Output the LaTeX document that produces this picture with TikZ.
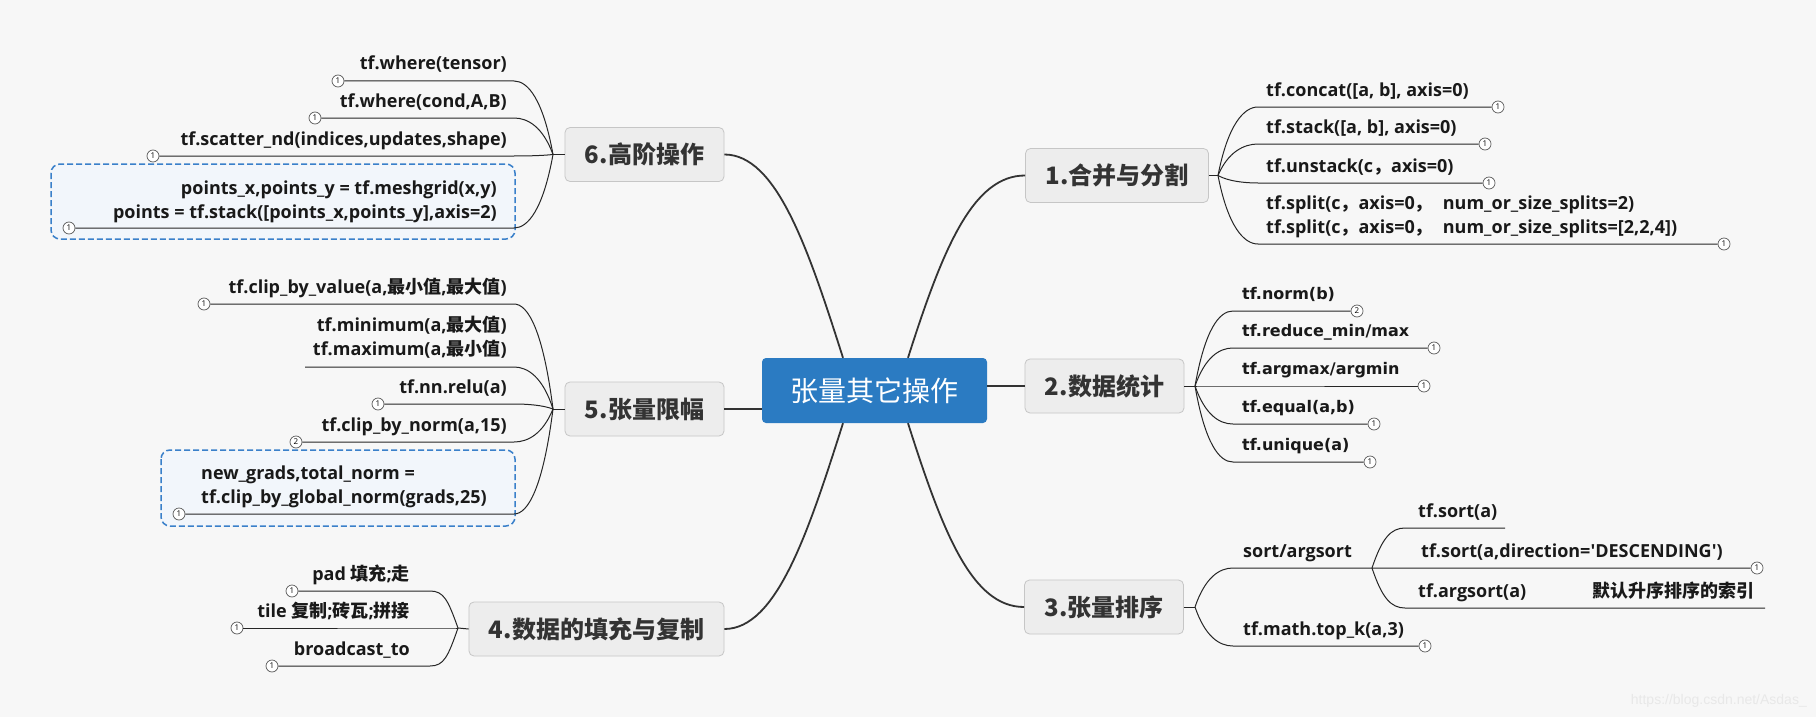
\documentclass[tikz,border=0pt]{standalone}
\usepackage{fontspec}
\setmainfont{Open Sans}
\newfontfamily\cjk{Noto Sans CJK SC}
\newfontfamily\statfont{DejaVu Sans}
\newfontfamily\urlfont{Liberation Sans}
\usetikzlibrary{calc, positioning}
\newcommand\zh[1]{{\cjk #1}}
\definecolor{bgcol}{HTML}{F7F7F7}
\definecolor{rootblue}{HTML}{2B7BC2}
\definecolor{topicfill}{HTML}{EDEDED}
\definecolor{topicline}{HTML}{C6C6C6}
\definecolor{inktext}{HTML}{333333}
\definecolor{dashblue}{HTML}{3A80CA}
\definecolor{dashfill}{HTML}{F2F6FB}
\tikzset{
  rootbox/.style={fill=rootblue, rounded corners=4pt, minimum width=225pt, minimum height=65pt,
    text=white, font=\cjk\fontsize{28}{28}\selectfont},
  topic/.style={fill=topicfill, draw=topicline, line width=0.8pt, rounded corners=5pt,
    inner xsep=20pt, minimum height=54pt, text=inktext, font=\cjk\bfseries\fontsize{24}{24}\selectfont},
  limb/.style={draw=inktext, line width=1.8pt},
  twig/.style={draw=black!85, line width=1pt},
  item/.style={inner sep=0pt, text=black!90, font=\bfseries\fontsize{18}{23.5}\selectfont},
  statitem/.style={inner sep=0pt, text=black!90, font=\statfont\bfseries\fontsize{16}{20}\selectfont},
  badge/.style={circle, draw=black!65, fill=white, line width=0.7pt, minimum size=12pt,
    inner sep=0pt, font=\fontsize{8}{8}\selectfont},
  dashbox/.style={draw=dashblue, dash pattern=on 6pt off 3pt, line width=1.5pt, fill=dashfill,
    rounded corners=9pt},
  watermark/.style={inner sep=0pt, text=black!9, font=\urlfont\fontsize{14}{14}\selectfont},
  fanR/.style={to path={.. controls ($(\tikztostart)!.75!(\tikztostart |- \tikztotarget)+(10,0)$)
    and ($(\tikztotarget)+(-14,0)$) .. (\tikztotarget)}},
  fanL/.style={to path={.. controls ($(\tikztostart)!.75!(\tikztostart |- \tikztotarget)+(-10,0)$)
    and ($(\tikztotarget)+(14,0)$) .. (\tikztotarget)}},
}
\begin{document}
\begin{tikzpicture}[x=1pt, y=-1pt]
\fill[bgcol] (0,0) rectangle (1816,717);
\useasboundingbox (0,0) rectangle (1816,717);

% centre and main topics
\node[rootbox] (root) at (874.5,390.5) {张量其它操作};
\node[topic] (b1) at (1117,175.5) {1.合并与分割};
\node[topic] (b2) at (1104.5,386) {2.数据统计};
\node[topic] (b3) at (1104,607) {3.张量排序};
\node[topic] (b4) at (596.5,629) {4.数据的填充与复制};
\node[topic] (b5) at (644.5,409) {5.张量限幅};
\node[topic] (b6) at (644.5,154.5) {6.高阶操作};

\draw[limb] ([xshift=33.5pt]root.north) .. controls +(35,-110) and +(-52,0) .. (b1.west);
\draw[limb] (root.east |- b2.west) -- (b2.west);
\draw[limb] ([xshift=33.5pt]root.south) .. controls +(35,110) and +(-52,0) .. (b3.west);
\draw[limb] ([xshift=-31.5pt]root.south) .. controls +(-35,110) and +(52,0) .. (b4.east);
\draw[limb] (b5.east) -- (root.west |- b5.east);
\draw[limb] ([xshift=-31.5pt]root.north) .. controls +(-35,-110) and +(52,0) .. (b6.east);

% dashed groups
\draw[dashbox] (51,164) rectangle (515,239);
\draw[dashbox] (161,450) rectangle (515,526);

% 1 merge and split
\coordinate (j1) at (1218,175.5);
\foreach \n/\y in {1/107, 2/144, 3/183, 4/244}
  \coordinate (b1s\n) at (1258,\y);
\node[badge] (b1n1) at (1498,107) {1};
\node[badge] (b1n2) at (1485,144) {1};
\node[badge] (b1n3) at (1489,183) {1};
\node[badge] (b1n4) at (1724,244) {1};
\draw[twig] (b1.east) -- (j1);
\foreach \n in {1,...,4}
  \draw[twig] (j1) to[fanR] (b1s\n) -- (b1n\n.west);
\node[item, anchor=base west] (b1t1) at ([shift={(8,-11)}]b1s1) {tf.concat([a, b], axis=0)};
\node[item, anchor=base west] (b1t2) at ([shift={(8,-11)}]b1s2) {tf.stack([a, b], axis=0)};
\node[item, anchor=base west] (b1t3) at ([shift={(8,-11)}]b1s3) {tf.unstack(c\zh{，}axis=0)};
\node[item, anchor=base west, align=left] (b1t4) at ([shift={(8,-11)}]b1s4)
  {tf.split(c\zh{，}axis=0\zh{，}\hspace{10pt}num\_or\_size\_splits=2)\\
   tf.split(c\zh{，}axis=0\zh{，}\hspace{10pt}num\_or\_size\_splits=[2,2,4])};

% 2 statistics
\coordinate (j2) at (1195,386);
\foreach \n/\y in {1/311, 2/348, 3/386, 4/424, 5/462}
  \coordinate (b2s\n) at (1233,\y);
\node[badge] (b2n1) at (1357,311) {2};
\node[badge] (b2n2) at (1434,348) {1};
\node[badge] (b2n3) at (1424,386) {1};
\node[badge] (b2n4) at (1374,424) {1};
\node[badge] (b2n5) at (1370,462) {1};
\draw[twig] (b2.east) -- (j2);
\foreach \n in {1,...,5}
  \draw[twig] (j2) to[fanR] (b2s\n) -- (b2n\n.west);
\node[statitem, anchor=base west] (b2t1) at ([shift={(9,-11.5)}]b2s1) {tf.norm(b)};
\node[statitem, anchor=base west] (b2t2) at ([shift={(9,-11.5)}]b2s2) {tf.reduce\_min/max};
\node[statitem, anchor=base west] (b2t3) at ([shift={(9,-11.5)}]b2s3) {tf.argmax/argmin};
\node[statitem, anchor=base west] (b2t4) at ([shift={(9,-11.5)}]b2s4) {tf.equal(a,b)};
\node[statitem, anchor=base west] (b2t5) at ([shift={(9,-11.5)}]b2s5) {tf.unique(a)};

% 3 sorting
\coordinate (j3) at (1195,607);
\coordinate (b3s1) at (1233,568);
\coordinate (b3s2) at (1233,646);
\coordinate (k3) at (1372,568);
\coordinate (b3u1) at (1405,528);
\coordinate (b3e1) at (1505,528);
\coordinate (b3u3) at (1405,608);
\coordinate (b3e3) at (1765,608);
\node[badge] (b3n2) at (1757,568) {1};
\node[badge] (b3n4) at (1425,646) {1};
\draw[twig] (b3.east) -- (j3);
\draw[twig] (j3) to[fanR] (b3s1) -- (k3) -- (b3n2.west);
\draw[twig] (j3) to[fanR] (b3s2) -- (b3n4.west);
\draw[twig] (k3) to[fanR] (b3u1) -- (b3e1);
\draw[twig] (k3) to[fanR] (b3u3) -- (b3e3);
\node[item, anchor=base west] (b3t1) at ([shift={(10,-11)}]b3s1) {sort/argsort};
\node[item, anchor=base west] (b3t2) at ([shift={(13,-11)}]b3u1) {tf.sort(a)};
\node[item, anchor=base west] (b3t3) at ([shift={(49,-11)}]k3)
  {tf.sort(a,direction=\textquotesingle DESCENDING\textquotesingle)};
\node[item, anchor=base west] (b3t4) at ([shift={(13,-11)}]b3u3)
  {tf.argsort(a)\hspace{66pt}\zh{默认升序排序的索引}};
\node[item, anchor=base west] (b3t5) at ([shift={(10,-11)}]b3s2) {tf.math.top\_k(a,3)};

% 4 padding and tiling
\coordinate (j4) at (458,628);
\foreach \n/\y in {1/591, 2/628, 3/666}
  \coordinate (b4s\n) at (430,\y);
\node[badge] (b4n1) at (292,591) {1};
\node[badge] (b4n2) at (237,628) {1};
\node[badge] (b4n3) at (272,666) {1};
\draw[twig] (b4.west) -- (j4);
\foreach \n in {1,...,3}
  \draw[twig] (j4) to[fanL] (b4s\n) -- (b4n\n.east);
\node[item, anchor=base east] (b4t1) at ([shift={(-20,-11)}]b4s1) {pad \zh{填充};\zh{走}};
\node[item, anchor=base east] (b4t2) at ([shift={(-20,-11)}]b4s2) {tile \zh{复制};\zh{砖瓦};\zh{拼接}};
\node[item, anchor=base east] (b4t3) at ([shift={(-20,-11)}]b4s3) {broadcast\_to};

% 5 clipping
\coordinate (j5) at (553,409);
\foreach \n/\y in {1/304, 2/367, 3/404, 4/442, 5/514}
  \coordinate (b5s\n) at (514,\y);
\node[badge] (b5n1) at (204,304) {1};
\coordinate (b5n2) at (305,367);
\node[badge] (b5n3) at (378,404) {1};
\node[badge] (b5n4) at (296,442) {2};
\node[badge] (b5n5) at (179,514) {1};
\draw[twig] (b5.west) -- (j5);
\foreach \n in {1,3,4,5}
  \draw[twig] (j5) to[fanL] (b5s\n) -- (b5n\n.east);
\draw[twig] (j5) to[fanL] (b5s2) -- (b5n2);
\node[item, anchor=base east] (b5t1) at ([shift={(-7,-11)}]b5s1)
  {tf.clip\_by\_value(a,\zh{最小值},\zh{最大值})};
\node[item, anchor=base east, align=right] (b5t2) at ([shift={(-7,-12)}]b5s2)
  {tf.minimum(a,\zh{最大值})\\tf.maximum(a,\zh{最小值})};
\node[item, anchor=base east] (b5t3) at ([shift={(-7,-11)}]b5s3) {tf.nn.relu(a)};
\node[item, anchor=base east] (b5t4) at ([shift={(-7,-11)}]b5s4) {tf.clip\_by\_norm(a,15)};
\node[item, anchor=base west, align=left] (b5t5) at (201,503)
  {new\_grads,total\_norm =\\tf.clip\_by\_global\_norm(grads,25)};

% 6 advanced
\coordinate (j6) at (553,154.5);
\foreach \n/\y in {1/81, 2/118, 3/156, 4/228}
  \coordinate (b6s\n) at (514,\y);
\node[badge] (b6n1) at (338,81) {1};
\node[badge] (b6n2) at (315,118) {1};
\node[badge] (b6n3) at (153,156) {1};
\node[badge] (b6n4) at (69,228) {1};
\draw[twig] (b6.west) -- (j6);
\foreach \n in {1,...,4}
  \draw[twig] (j6) to[fanL] (b6s\n) -- (b6n\n.east);
\node[item, anchor=base east] (b6t1) at ([shift={(-7,-11)}]b6s1) {tf.where(tensor)};
\node[item, anchor=base east] (b6t2) at ([shift={(-7,-11)}]b6s2) {tf.where(cond,A,B)};
\node[item, anchor=base east] (b6t3) at ([shift={(-7,-11)}]b6s3) {tf.scatter\_nd(indices,updates,shape)};
\node[item, anchor=base east, align=right] (b6t4) at (497,218)
  {points\_x,points\_y = tf.meshgrid(x,y)\\points = tf.stack([points\_x,points\_y],axis=2)};

\node[watermark, anchor=base east] (wm) at (1807,704) {https://blog.csdn.net/Asdas\_};
\end{tikzpicture}
\end{document}
